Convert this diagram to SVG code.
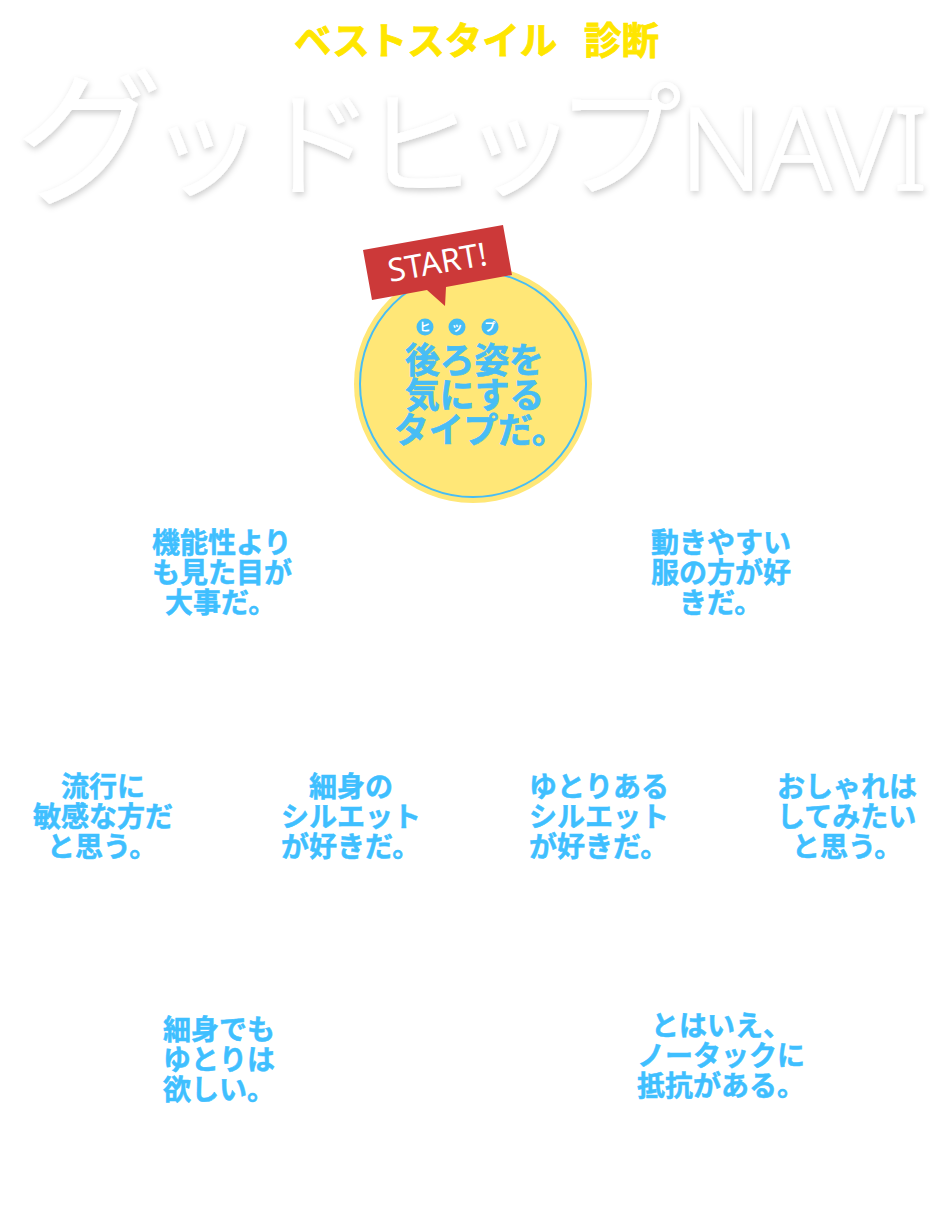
<svg xmlns="http://www.w3.org/2000/svg" width="946" height="1213" viewBox="0 0 946 1213">
<style>
text{font-family:"Noto Sans CJK JP",sans-serif}
.q{font-size:28px;font-weight:700;fill:#3fbfff;stroke:#3fbfff;stroke-width:.5px}
.y{font-size:37.500px;font-weight:700;fill:#ffe600;stroke:#ffe600;stroke-width:.8px}
.s{font-size:34.700px;font-weight:700;fill:#47bdf5;stroke:#47bdf5;stroke-width:.7px}
.r{font-size:11px;font-weight:700;fill:#fff;text-anchor:middle}
.d{fill:#47bdf5}
</style>
<defs><filter id="sh" x="-5%" y="-10%" width="110%" height="125%"><feDropShadow dx="1" dy="3" stdDeviation="3" flood-color="#000" flood-opacity=".2"/></filter></defs>
<g id="title">
<text class="y" x="294" y="54">ベストスタイル</text>
<text class="y" x="584" y="54">診断</text>
<g filter="url(#sh)" fill="#fff">
<text x="15" y="193" style="font-size:148px">グ</text>
<text x="148" y="187" style="font-size:116px">ッ</text>
<text x="258" y="187" style="font-size:116px">ド</text>
<text x="361" y="187" style="font-size:116px">ヒ</text>
<text x="461" y="187" style="font-size:116px">ッ</text>
<text x="556" y="187" style="font-size:126px">プ</text>
<text x="680" y="190" textLength="248" lengthAdjust="spacingAndGlyphs" stroke="#fff" stroke-width="1.500" style="font-size:115px;font-family:'Noto Sans',sans-serif;font-weight:300">NAVI</text>
</g>
</g>
<g id="start">
<circle cx="473" cy="384" r="119" fill="#ffe777"/>
<circle cx="473" cy="384" r="113" fill="none" stroke="#47bdf5" stroke-width="2"/>
<path d="M363 250L503 225L512 275L446 287L445 306L427 290L372 300Z" fill="#cc3939"/>
<text transform="translate(390 282) rotate(-10)" style="font-size:32px;fill:#fff;font-family:'Noto Sans',sans-serif">START!</text>
<g id="ruby">
<circle class="d" cx="425" cy="327" r="8.500"/><circle class="d" cx="457" cy="327" r="8.500"/><circle class="d" cx="490" cy="327" r="8.500"/>
<text class="r" x="425" y="331">ヒ</text>
<text class="r" x="457" y="331">ッ</text>
<text class="r" x="490" y="331">プ</text>
</g>
<text class="s" x="405" y="373">後ろ姿を</text>
<text class="s" x="405" y="408">気にする</text>
<text class="s" x="394" y="443">タイプだ。</text>
</g>
<g id="q1"><text class="q" x="152" y="553">機能性より</text><text class="q" x="152" y="583">も見た目が</text><text class="q" x="165" y="613">大事だ。</text></g>
<g id="q2"><text class="q" x="651" y="553">動きやすい</text><text class="q" x="651" y="583">服の方が好</text><text class="q" x="679" y="613">きだ。</text></g>
<g id="q3"><text class="q" x="61" y="797">流行に</text><text class="q" x="33" y="827">敏感な方だ</text><text class="q" x="47" y="857">と思う。</text></g>
<g id="q4"><text class="q" x="309" y="797">細身の</text><text class="q" x="281" y="827">シルエット</text><text class="q" x="281" y="857">が好きだ。</text></g>
<g id="q5"><text class="q" x="529" y="797">ゆとりある</text><text class="q" x="529" y="827">シルエット</text><text class="q" x="529" y="857">が好きだ。</text></g>
<g id="q6"><text class="q" x="777" y="797">おしゃれは</text><text class="q" x="777" y="827">してみたい</text><text class="q" x="792" y="857">と思う。</text></g>
<g id="q7"><text class="q" x="163" y="1040">細身でも</text><text class="q" x="163" y="1070">ゆとりは</text><text class="q" x="163" y="1100">欲しい。</text></g>
<g id="q8"><text class="q" x="651" y="1036">とはいえ、</text><text class="q" x="637" y="1066">ノータックに</text><text class="q" x="637" y="1096">抵抗がある。</text></g>
</svg>
